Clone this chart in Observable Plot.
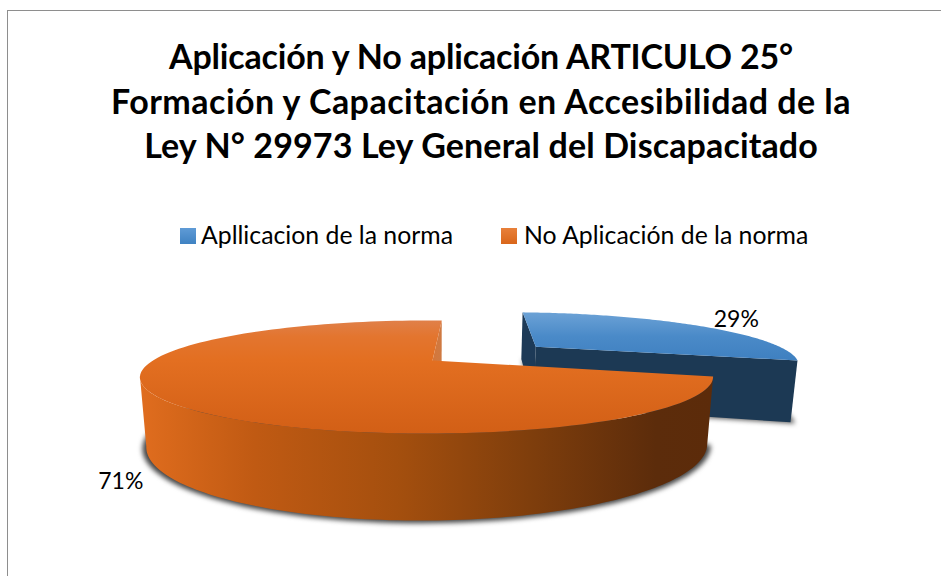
<!DOCTYPE html>
<html lang="es">
<head>
<meta charset="utf-8">
<script src="https://cdn.jsdelivr.net/npm/d3@7"></script>
<script src="https://cdn.jsdelivr.net/npm/@observablehq/plot@0.6"></script>
<style>
  html,body{margin:0;padding:0;background:#fff;}
  #page{position:relative;width:941px;height:576px;overflow:hidden;font-family:Lato,"Open Sans",sans-serif;color:#000;}
  #frame{position:absolute;left:7px;top:10px;right:-4px;bottom:-4px;border:1.5px solid #8e8e8e;}
  #title{position:absolute;left:0;top:34px;width:962px;text-align:center;font-weight:700;font-size:34px;line-height:44.5px;}
  .leg{position:absolute;top:218px;font-size:24.8px;line-height:34px;white-space:nowrap;}
  .sw{position:absolute;top:228px;width:16px;height:16px;}
  #chart{position:absolute;left:0;top:270px;}
</style>
</head>
<body>
<div id="page">
  <div id="frame"></div>
  <div id="title"></div>
  <div id="legend"></div>
  <div id="chart"></div>
</div>
<script>
const titleLines = [
  "Aplicación y No aplicación ARTICULO 25°",
  "Formación y Capacitación en Accesibilidad de la",
  "Ley N° 29973 Ley General del Discapacitado"
];
const categories = ["Apllicacion de la norma", "No Aplicación de la norma"];
const shares = [29, 71];
const percentLabels = ["29%", "71%"];

// Pie geometry (perspective view of an extruded disc)
const startAngle = 2.5, explode = [0.505, 0], wallEnd = 254;
const labelPlace = [{r: 1.31, z: 0}, {r: 1.13, z: 0.99}];
const P = {x0: 432, y0: 360, a: 274, b: 51.7, c: 64.8, k: 0.292, m: 0.02, n: 0.02};
const project = (u, v, z) => {
  const w = 1 - P.k * v + P.m * u + P.n * z;
  return {x: P.x0 + P.a * u / w, y: P.y0 + (P.b * v + P.c * z) / w};
};
const rad = d => d * Math.PI / 180;

// slices from shares
let acc = startAngle;
const total = d3.sum(shares);
const slices = shares.map((s, i) => {
  const a0 = acc, a1 = acc + 360 * s / total; acc = a1;
  const mid = (a0 + a1) / 2;
  const ou = explode[i] * Math.sin(rad(mid)), ov = -explode[i] * Math.cos(rad(mid));
  const pt = (ang, r, z) => project(ou + r * Math.sin(rad(ang)), ov - r * Math.cos(rad(ang)), z);
  const arc = (z, r = 1, from = a0, to = a1) => d3.range(0, 121).map(j => pt(from + (to - from) * j / 120, r, z));
  return {a0, a1, mid, pt, arc};
});
const [blue, orange] = slices;

const poly = (data, fill, extra = {}) =>
  Plot.line([...data, data[0]], {x: "x", y: "y", fill, stroke: "none", curve: "linear", ...extra});

const topFace = s => [s.pt(0, 0, 0), ...s.arc(0)];
const wall = (s, from, to) => [...s.arc(0, 1, from, to), ...s.arc(1, 1, from, to).reverse()];
const cut = (s, ang) => [s.pt(0, 0, 0), s.pt(ang, 1, 0), s.pt(ang, 1, 1), s.pt(0, 0, 1)];

const gradient = (id, horizontal, stops) => {
  const g = d3.create("svg:linearGradient").attr("id", id)
    .attr("x1", 0).attr("y1", 0).attr("x2", horizontal ? 1 : 0).attr("y2", horizontal ? 0 : 1);
  stops.forEach(([o, c]) => g.append("stop").attr("offset", o).attr("stop-color", c));
  return g.node();
};
const defs = () => {
  const d = d3.create("svg:defs").node();
  d.append(
    gradient("gTopO", false, [[0, "#e08049"], [0.14, "#e3752f"], [0.35, "#e36f21"], [1, "#d25f16"]]),
    gradient("gTopB", false, [[0, "#6ca2d6"], [0.5, "#4a8ac8"], [1, "#3f80c0"]]),
    gradient("gWallO", true, [[0, "#e06d1f"], [0.05, "#d8681b"], [0.2, "#c05a13"], [0.45, "#a44f0e"], [0.68, "#7f3e0c"], [0.9, "#5c2c0b"], [1, "#5c2b0a"]]),
    gradient("gCutO", true, [[0, "#d4763a"], [1, "#cf7a42"]])
  );
  return d;
};

const shadow = "blur(2.5px)";
const chart = Plot.plot({
  width: 941, height: 306,
  margin: 0,
  x: {domain: [0, 941], range: [0, 941], axis: null},
  y: {domain: [270, 576], range: [0, 306], axis: null},
  style: {background: "transparent", overflow: "visible"},
  marks: [
    defs,
    // soft shadows under the solids
    poly(blue.arc(1, 1.012).concat(blue.pt(0, 0, 1.0)), "#555", {imageFilter: shadow, dx: 1, dy: 1}),
    poly(orange.arc(1, 1.012), "#444", {imageFilter: shadow, dy: 1}),
    // exploded blue slice
    poly(cut(blue, blue.a0), "#1d3a57"),
    poly(cut(blue, blue.a1), "#1c3954"),
    poly(topFace(blue), "url(#gTopB)"),
    // orange slice
    poly(wall(orange, orange.a0, wallEnd), "url(#gWallO)"),
    poly(cut(orange, orange.a1), "url(#gCutO)"),
    poly(topFace(orange), "url(#gTopO)"),
    // percentage labels
    Plot.text(slices.map((s, i) => ({...s.pt(s.mid, labelPlace[i].r, labelPlace[i].z), t: percentLabels[i]})), {
      x: "x", y: "y", text: "t", fontSize: 23, fill: "#000", fontFamily: "Lato, 'Open Sans', sans-serif"
    })
  ]
});
document.getElementById("chart").append(chart);

// title and legend around the SVG
const lineSpacing = ["-0.18px", "0.48px", "0.12px"];
document.getElementById("title").innerHTML = titleLines
  .map((t, i) => `<span style="letter-spacing:${lineSpacing[i]}">${t}</span>`).join("<br>");
const legendStyle = [
  {sw: 180, tx: 201, bg: "linear-gradient(#5f9bd6,#3f82c2)"},
  {sw: 501, tx: 524, bg: "linear-gradient(#e8803a,#d9661a)"}
];
const leg = document.getElementById("legend");
categories.forEach((c, i) => {
  const s = document.createElement("div");
  s.className = "sw"; s.style.left = legendStyle[i].sw + "px"; s.style.background = legendStyle[i].bg;
  const t = document.createElement("div");
  t.className = "leg"; t.style.left = legendStyle[i].tx + "px"; t.textContent = c;
  leg.append(s, t);
});
</script>
</body>
</html>
